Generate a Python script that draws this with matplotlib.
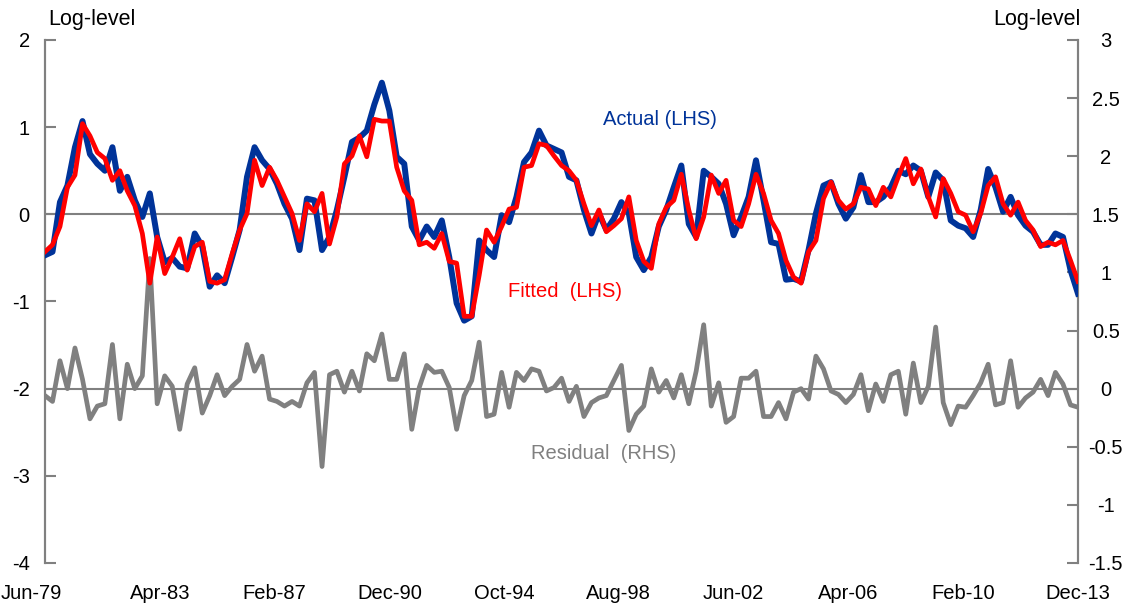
import matplotlib
matplotlib.use("Agg")
from matplotlib import pyplot as plt
import matplotlib.dates as mdates
import matplotlib.transforms as mtransforms
from matplotlib.ticker import FuncFormatter
import numpy as np
import pandas as pd

plt.rcParams['font.family'] = ['Liberation Sans', 'DejaVu Sans']
plt.rcParams['axes.unicode_minus'] = False

# Quarterly observations, Jun-79 to Dec-13
dates = pd.date_range('1979-06-01', periods=139, freq='3MS')

actual = [
    -0.47, -0.43, 0.14, 0.33, 0.77, 1.07, 0.69, 0.58, 0.50, 0.77,
    0.27, 0.43, 0.16, -0.03, 0.24, -0.26, -0.55, -0.50, -0.60, -0.62,
    -0.22, -0.37, -0.83, -0.70, -0.79, -0.49, -0.18, 0.43, 0.77, 0.62,
    0.52, 0.35, 0.12, -0.05, -0.41, 0.18, 0.16, -0.41, -0.26, 0.05,
    0.43, 0.83, 0.88, 0.96, 1.26, 1.51, 1.19, 0.66, 0.58, -0.14,
    -0.30, -0.14, -0.26, -0.07, -0.49, -1.02, -1.22, -1.17, -0.30, -0.41,
    -0.49, -0.01, -0.09, 0.20, 0.60, 0.71, 0.96, 0.79, 0.75, 0.71,
    0.43, 0.39, 0.05, -0.22, 0.01, -0.18, -0.05, 0.14, 0.01, -0.49,
    -0.64, -0.49, -0.14, 0.05, 0.31, 0.56, -0.11, -0.26, 0.50, 0.43,
    0.35, 0.12, -0.24, -0.03, 0.20, 0.62, 0.16, -0.32, -0.34, -0.75,
    -0.74, -0.77, -0.41, 0.01, 0.33, 0.37, 0.12, -0.05, 0.08, 0.45,
    0.14, 0.14, 0.20, 0.31, 0.50, 0.46, 0.56, 0.50, 0.20, 0.48,
    0.39, -0.07, -0.13, -0.16, -0.26, 0.05, 0.52, 0.31, 0.03, 0.20,
    -0.01, -0.13, -0.20, -0.35, -0.35, -0.22, -0.26, -0.64, -0.91,
]

fitted = [
    -0.43, -0.35, -0.14, 0.31, 0.45, 1.04, 0.90, 0.71, 0.64, 0.39,
    0.50, 0.27, 0.10, -0.22, -0.79, -0.26, -0.68, -0.49, -0.28, -0.64,
    -0.37, -0.32, -0.77, -0.79, -0.75, -0.45, -0.18, 0.01, 0.62, 0.33,
    0.54, 0.39, 0.20, 0.01, -0.30, 0.12, 0.03, 0.24, -0.34, -0.03,
    0.58, 0.67, 0.90, 0.66, 1.09, 1.07, 1.07, 0.54, 0.27, 0.16,
    -0.35, -0.32, -0.39, -0.22, -0.54, -0.56, -1.17, -1.17, -0.70, -0.18,
    -0.32, -0.14, 0.06, 0.08, 0.54, 0.56, 0.81, 0.79, 0.67, 0.56,
    0.50, 0.39, 0.12, -0.13, 0.05, -0.20, -0.13, -0.05, 0.20, -0.30,
    -0.54, -0.62, -0.11, 0.08, 0.16, 0.46, 0.05, -0.28, -0.03, 0.45,
    0.24, 0.39, -0.07, -0.14, 0.12, 0.46, 0.24, -0.07, -0.22, -0.53,
    -0.72, -0.79, -0.43, -0.30, 0.18, 0.37, 0.16, 0.06, 0.12, 0.31,
    0.29, 0.10, 0.31, 0.20, 0.43, 0.64, 0.35, 0.52, 0.20, -0.03,
    0.41, 0.24, 0.03, -0.01, -0.20, 0.01, 0.33, 0.43, 0.12, -0.01,
    0.14, -0.07, -0.18, -0.37, -0.32, -0.35, -0.30, -0.53, -0.77,
]

residual = [
    -0.06, -0.11, 0.24, 0.00, 0.35, 0.08, -0.26, -0.15, -0.13, 0.38,
    -0.26, 0.21, 0.00, 0.11, 1.12, -0.13, 0.11, 0.02, -0.35, 0.04,
    0.18, -0.21, -0.06, 0.12, -0.06, 0.02, 0.08, 0.38, 0.15, 0.28,
    -0.09, -0.11, -0.15, -0.11, -0.15, 0.05, 0.14, -0.67, 0.12, 0.15,
    -0.03, 0.15, -0.02, 0.30, 0.24, 0.47, 0.08, 0.08, 0.30, -0.35,
    0.01, 0.20, 0.14, 0.15, 0.01, -0.35, -0.06, 0.07, 0.40, -0.24,
    -0.22, 0.14, -0.16, 0.14, 0.07, 0.17, 0.15, -0.02, 0.01, 0.09,
    -0.11, 0.02, -0.24, -0.12, -0.08, -0.06, 0.07, 0.20, -0.36, -0.22,
    -0.15, 0.17, -0.03, 0.07, -0.08, 0.12, -0.13, 0.15, 0.55, -0.15,
    0.05, -0.29, -0.24, 0.09, 0.09, 0.15, -0.24, -0.24, -0.12, -0.26,
    -0.03, 0.00, -0.09, 0.28, 0.17, -0.02, -0.05, -0.12, -0.05, 0.12,
    -0.19, 0.04, -0.11, 0.12, 0.15, -0.22, 0.22, -0.12, 0.02, 0.53,
    -0.12, -0.31, -0.15, -0.16, -0.06, 0.05, 0.21, -0.14, -0.12, 0.24,
    -0.16, -0.08, -0.03, 0.08, -0.06, 0.14, 0.04, -0.14, -0.16,
]

tick_dates = pd.date_range('1979-06-01', periods=10, freq='46MS')

blue = '#003399'
red = '#ff0000'
grey = '#808080'
fs = 14.5

fig = plt.figure(figsize=(11.44, 6.06), dpi=100)
ax = fig.add_axes([0.0393, 0.071, 0.9030, 0.863])
ax2 = ax.twinx()

# Zero lines for both axes
ax.axhline(0, color=grey, lw=1.5, zorder=1)
ax2.axhline(0, color=grey, lw=1.5, zorder=1)

ax2.plot(dates, residual, color=grey, lw=3.4, solid_joinstyle='round', zorder=2)
ax.plot(dates, actual, color=blue, lw=4.3, solid_joinstyle='round', zorder=3)
ax.plot(dates, fitted, color=red, lw=3.4, solid_joinstyle='round', zorder=4)

# Left axis above the right one so blue/red sit on top of grey
ax.set_zorder(ax2.get_zorder() + 1)
ax.patch.set_visible(False)

ax.set_xlim(dates[0], dates[-1])
ax.set_ylim(-4, 2)
ax2.set_ylim(-1.5, 3)
ax.set_yticks(np.arange(-4, 2.1, 1))
ax2.set_yticks(np.arange(-1.5, 3.01, 0.5))
ax2.yaxis.set_major_formatter(FuncFormatter(lambda v, p: '%g' % v))

ax.set_xticks(tick_dates)
ax.xaxis.set_major_formatter(mdates.DateFormatter('%b-%y'))

for a in (ax, ax2):
    for s in ('top', 'bottom'):
        a.spines[s].set_visible(False)
    a.spines['left'].set_color(grey)
    a.spines['right'].set_color(grey)
    a.spines['left'].set_linewidth(1.5)
    a.spines['right'].set_linewidth(1.5)

ax.tick_params(axis='y', direction='in', length=8, width=1.5, color=grey,
               labelsize=fs, pad=11)
ax2.tick_params(axis='y', direction='in', length=8, width=1.5, color=grey,
                labelsize=fs, pad=20)
for lab in ax2.get_yticklabels():
    lab.set_horizontalalignment('center')
ax.tick_params(axis='x', length=0, labelsize=fs, pad=15)

# Excel pulls the first date label in to stay inside the figure
first = ax.get_xticklabels()[0]
first.set_transform(first.get_transform()
                    + mtransforms.ScaledTranslation(-0.14, 0, fig.dpi_scale_trans))

fig.text(0.042, 0.967, 'Log-level', fontsize=15.5, ha='left', va='center')
fig.text(0.945, 0.967, 'Log-level', fontsize=15.5, ha='right', va='center')

fig.text(0.577, 0.802, 'Actual (LHS)', color=blue, fontsize=fs,
         ha='center', va='center')
fig.text(0.494, 0.519, 'Fitted  (LHS)', color=red, fontsize=fs,
         ha='center', va='center')
fig.text(0.528, 0.252, 'Residual  (RHS)', color=grey, fontsize=fs,
         ha='center', va='center')

plt.savefig('out.png', dpi=100)
